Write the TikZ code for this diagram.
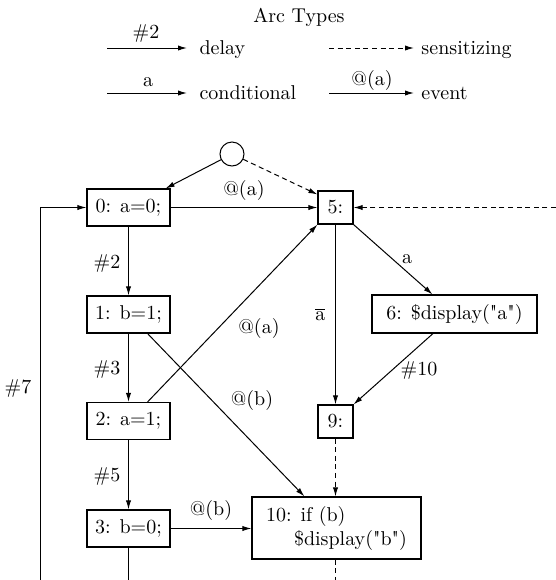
\documentclass[tikz,border=0pt]{standalone}
\usetikzlibrary{arrows.meta,calc}

\begin{document}
\begin{tikzpicture}[x=0.5pt,y=-0.5pt,
  line width=0.5pt,
  arc/.style={-{Latex[length=4.5pt,width=2.6pt]}},
  sens/.style={arc,dash pattern=on 2.5pt off 1.8pt},
  sensline/.style={dash pattern=on 2.5pt off 1.8pt},
  stmt/.style={draw,line width=0.55pt,inner sep=0pt,minimum height=18.5pt},
  lbl/.style={inner sep=0pt}]
\useasboundingbox (0,0) rectangle (556,580);

% ---- legend ----
\node[lbl] (title) at (299,17) {Arc Types};

\coordinate (ldelay) at (107,48);
\node[lbl,anchor=base west] (tdelay) at (199,54) {delay};
\draw[arc] (ldelay) -- ($(ldelay -| tdelay.west)+(-12,0)$);
\node[lbl,anchor=base] (ldelaylbl) at (146,38) {\#2};

\coordinate (lsens) at (329,48);
\node[lbl,anchor=base west] (tsens) at (421,54) {sensitizing};
\draw[sens] (lsens) -- ($(lsens -| tsens.west)+(-7,0)$);

\coordinate (lcond) at (107,93);
\node[lbl,anchor=base west] (tcond) at (199,99) {conditional};
\draw[arc] (lcond) -- ($(lcond -| tcond.west)+(-12,0)$);
\node[lbl,anchor=base] (lcondlbl) at (148,86) {a};

\coordinate (levent) at (329,93);
\node[lbl,anchor=base west] (tevent) at (421,99) {event};
\draw[arc] (levent) -- ($(levent -| tevent.west)+(-7,0)$);
\node[lbl,anchor=base] (leventlbl) at (372,85) {@(a)};

% ---- statement nodes ----
\node[draw,circle,minimum size=12pt,inner sep=0pt] (init) at (232,154) {};
\node[stmt,minimum width=41.5pt] (n0) at (128.5,207.5) {0: a=0;};
\node[stmt,minimum width=41.5pt] (n1) at (128.5,314.5) {1: b=1;};
\node[stmt,minimum width=41.5pt] (n2) at (128.5,421) {2: a=1;};
\node[stmt,minimum width=41.5pt] (n3) at (128.5,528.5) {3: b=0;};
\node[stmt,minimum width=17.5pt,minimum height=16.5pt] (n5) at (335.5,207.5) {5:};
\node[stmt,minimum width=82.5pt,minimum height=19pt] (n6) at (454.5,314)
  {6: \$display(\textquotedbl a\textquotedbl)};
\node[stmt,minimum width=17.5pt,minimum height=16.5pt] (n9) at (335.5,421.5) {9:};
\node[stmt,minimum width=84.5pt,minimum height=31pt,align=left] (n10) at (336.5,528)
  {10: if (b)\\\hspace*{14pt}\$display(\textquotedbl b\textquotedbl)};

% ---- free ends ----
\coordinate (rin) at (556,207.5);
\coordinate (loopstart) at (40,580);
\coordinate (b3) at (128.5,580);
\coordinate (b10) at (335.5,580);

% ---- arcs ----
\draw[arc] (init) -- ($(n0.north east)+(-5,0)$);
\draw[sens] (init) -- ($(n5.north west)+(0,4)$);
\draw[arc] (n0) -- (n5);
\draw[sens] (rin) -- (n5.east);
\draw[arc] (n5.south east) -- ($(n6.north)+(-22,0)$);
\draw[arc] (n5) -- (n9);
\draw[arc] ($(n6.south)+(-21.5,0)$) -- (n9.north east);
\draw[sens] (n9.south) -- (n9.south |- n10.north);
\draw[sensline] (n9.south |- n10.south) -- (b10);
\draw[arc] (n0) -- (n1);
\draw[arc] (n1) -- (n2);
\draw[arc] (n2) -- (n3);
\draw (n3.south) -- (b3);
\draw[arc] (loopstart) |- (n0.west);
\draw[arc] ($(n2.north east)+(-23,0)$) -- (n5.south west);
\draw[arc] ($(n1.south east)+(-23,0)$) -- ($(n10.north west)+(53,0)$);
\draw[arc] (n3.east) -- (n3.east -| n10.west);

% ---- arc labels ----
\node[lbl] (l05) at (244,190) {@(a)};
\node[lbl] (l01) at (107,263) {\#2};
\node[lbl] (l12) at (107,369) {\#3};
\node[lbl] (l23) at (107,476) {\#5};
\node[lbl] (lloop) at (18,388) {\#7};
\node[lbl] (l56) at (407,259) {a};
\node[lbl] (l59) at (320,314) {$\overline{\mathrm{a}}$};
\node[lbl] (l69) at (419,370) {\#10};
\node[lbl] (l25) at (259,328) {@(a)};
\node[lbl] (l110) at (252,400) {@(b)};
\node[lbl] (l310) at (211,510) {@(b)};
\end{tikzpicture}
\end{document}
